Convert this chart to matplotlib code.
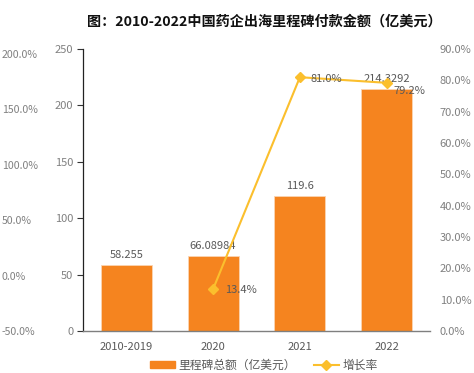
import matplotlib
matplotlib.use("Agg")
import matplotlib.pyplot as plt
from matplotlib.lines import Line2D
from matplotlib.patches import Patch

plt.rcParams['font.family'] = ['Noto Sans CJK SC', 'DejaVu Sans']

categories = ["2010-2019", "2020", "2021", "2022"]
amounts = [58.255, 66.08984, 119.6, 214.3292]
amount_labels = ["58.255", "66.08984", "119.6", "214.3292"]
growth_cats = ["2020", "2021", "2022"]
growth = [13.4, 81.0, 79.2]
outer_ticks = [-50, 0, 50, 100, 150, 200]

bar_color = "#F5841F"
line_color = "#FBBF2D"
tick_grey = "#808080"
label_grey = "#595959"

fig = plt.figure(figsize=(4.74, 3.73), dpi=100)
ax = fig.add_axes([83/474, 1-331/373, (430-83)/474, (331-49)/373])

x = list(range(len(categories)))
bars = ax.bar(x, amounts, width=0.59, color=bar_color, edgecolor="#FBD5B2", linewidth=0.6, zorder=2)
ax.set_xlim(-0.5, 3.5)
ax.set_ylim(0, 250)
ax.set_yticks([0, 50, 100, 150, 200, 250])
ax.set_xticks(x)
ax.set_xticklabels(categories)
ax.tick_params(axis='x', length=0, pad=8, labelsize=8, labelcolor=label_grey)
ax.tick_params(axis='y', length=4, width=0.8, pad=3, labelsize=8, labelcolor=tick_grey, color="#333333")
for s in ['top', 'right']:
    ax.spines[s].set_visible(False)
ax.spines['left'].set_color("#222222")
ax.spines['left'].set_linewidth(0.9)
ax.spines['bottom'].set_color("#7f7f7f")
ax.spines['bottom'].set_linewidth(1.0)

for xi, v, lab in zip(x, amounts, amount_labels):
    ax.annotate(lab, (xi, v), xytext=(0, 4), textcoords='offset points',
                ha='center', va='bottom', fontsize=8, color=label_grey)

# right axis for growth
ax2 = ax.twinx()
ax2.set_ylim(0, 90)
ax2.set_yticks(range(0, 91, 10))
ax2.set_yticklabels([f"{t:.1f}%" for t in range(0, 91, 10)])
ax2.tick_params(axis='y', length=0, pad=7, labelsize=8, labelcolor=tick_grey)
for s in ax2.spines.values():
    s.set_visible(False)
gx = [categories.index(c) for c in growth_cats]
ax2.plot(gx, growth, color=line_color, linewidth=1.5, marker='D', markersize=5,
         markeredgecolor=line_color, zorder=3)
offsets = [(8.5, -1), (8, -1), (5, -6)]
for xi, v, off in zip(gx, growth, offsets):
    ax2.annotate(f"{v:.1f}%", (xi, v), xytext=off, textcoords='offset points',
                 ha='left', va='center', fontsize=8, color=label_grey)

# outer left percent axis
ax3 = ax.twinx()
ax3.yaxis.set_ticks_position('left')
ax3.yaxis.set_label_position('left')
top3 = -50 + 282/277*250
ax3.set_ylim(-50, top3)
ax3.set_yticks(outer_ticks)
ax3.set_yticklabels([f"{t:.1f}%" for t in outer_ticks])
ax3.tick_params(axis='y', length=0, pad=(83-2)*0.72, labelsize=7.6, labelcolor=tick_grey)
for lab in ax3.get_yticklabels():
    lab.set_horizontalalignment('left')
for s in ax3.spines.values():
    s.set_visible(False)

ax.set_zorder(ax2.get_zorder() - 1)
ax.patch.set_visible(False)

fig.text(264.5/474, 1-22/373, "图：2010-2022中国药企出海里程碑付款金额（亿美元）",
         ha='center', va='center', fontsize=10.2, fontweight='bold', color="#111111")

handles = [Patch(facecolor=bar_color, edgecolor=bar_color),
           Line2D([0], [0], color=line_color, linewidth=1.5, marker='D', markersize=5)]
fig.legend(handles, ["里程碑总额（亿美元）", "增长率"], loc='center', ncol=2,
           bbox_to_anchor=(264/474, 1-365/373), frameon=False, fontsize=8.5,
           labelcolor=label_grey, handlelength=2.1, handleheight=0.55, columnspacing=1.5,
           handletextpad=0.35, borderpad=0)

fig.savefig("out.png", dpi=100)
